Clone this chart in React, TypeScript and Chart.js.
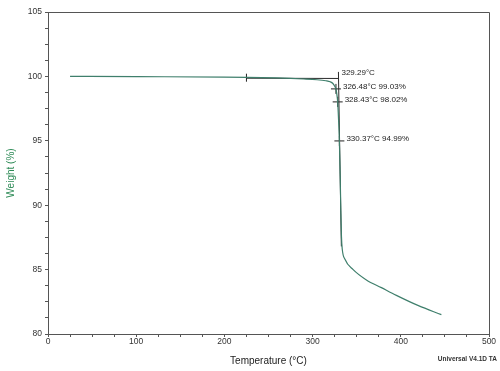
import React, { useEffect, useRef } from 'react';
import { Chart, registerables } from 'chart.js';

Chart.register(...registerables);

// TGA curve (Temperature °C, Weight %)
const temperatures = [25, 100, 200, 225, 260, 290, 305, 315, 320, 323, 325.4, 326.48, 327.5, 328.43, 329.4, 330.37, 331.3, 332, 332.7, 333.6, 336.7, 346, 361, 378, 395, 420, 446];
const weights = [100.0, 99.98, 99.95, 99.93, 99.88, 99.8, 99.74, 99.66, 99.58, 99.45, 99.2, 99.03, 98.6, 98.02, 96.7, 94.99, 92.2, 89.6, 87.6, 86.6, 85.8, 85.0, 84.2, 83.6, 83.0, 82.2, 81.5];

// onset construction lines
const baselineX = [225, 329.29];
const baselineY = [99.86, 99.84];
const tangentX = [329.29, 332.6];
const tangentY = [100.35, 86.8];
const onsetLabel = '329.29°C';

// marked points
const markX = [326.48, 328.43, 330.37];
const markY = [99.03, 98.02, 94.99];
const markLabels = ['326.48°C 99.03%', '328.43°C 98.02%', '330.37°C 94.99%'];

const startTickX = [225];
const startTickY = [99.9];

const xTitle = 'Temperature (°C)';
const yTitle = 'Weight (%)';
const footer = 'Universal V4.1D TA';

const FONT = '"Liberation Sans", Arial, Helvetica, sans-serif';

const annotationPlugin = {
  id: 'tgaAnnotations',
  afterDatasetsDraw(chart: any) {
    const { ctx, chartArea, scales } = chart;
    const x = scales.x;
    const y = scales.y;
    ctx.save();
    // frame top & right
    ctx.strokeStyle = '#555';
    ctx.lineWidth = 1;
    ctx.beginPath();
    ctx.moveTo(chartArea.left, Math.round(chartArea.top) + 0.5);
    ctx.lineTo(Math.round(chartArea.right) + 0.5, Math.round(chartArea.top) + 0.5);
    ctx.lineTo(Math.round(chartArea.right) + 0.5, chartArea.bottom);
    ctx.stroke();

    ctx.fillStyle = '#222';
    ctx.textBaseline = 'middle';
    ctx.textAlign = 'left';
    ctx.font = `8px ${FONT}`;
    ctx.fillText(onsetLabel, x.getPixelForValue(tangentX[0]) + 3, y.getPixelForValue(tangentY[0]) + 1);
    markLabels.forEach((t, i) => {
      ctx.fillText(t, x.getPixelForValue(markX[i]) + 7, y.getPixelForValue(markY[i]) - 2);
    });

    ctx.textAlign = 'right';
    ctx.font = `bold 6.5px ${FONT}`;
    ctx.fillStyle = '#333';
    ctx.fillText(footer, chart.width - 3, 359);
    ctx.restore();
  },
};

export default function App() {
  const ref = useRef<HTMLCanvasElement | null>(null);

  useEffect(() => {
    if (!ref.current) return;
    const chart = new Chart(ref.current, {
      type: 'line',
      data: {
        datasets: [
          {
            data: temperatures.map((t, i) => ({ x: t, y: weights[i] })),
            borderColor: '#3f7f6c',
            borderWidth: 1.2,
            pointRadius: 0,
            cubicInterpolationMode: 'monotone',
            fill: false,
          },
          {
            data: baselineX.map((t, i) => ({ x: t, y: baselineY[i] })),
            borderColor: '#2a2a2a',
            borderWidth: 1,
            pointRadius: 0,
            fill: false,
          },
          {
            data: tangentX.map((t, i) => ({ x: t, y: tangentY[i] })),
            borderColor: '#2a2a2a',
            borderWidth: 1,
            pointRadius: 0,
            fill: false,
          },
          {
            data: markX.map((t, i) => ({ x: t, y: markY[i] })),
            showLine: false,
            pointStyle: 'cross',
            pointRadius: 5,
            borderColor: '#222',
            borderWidth: 1,
          },
          {
            data: startTickX.map((t, i) => ({ x: t, y: startTickY[i] })),
            showLine: false,
            pointStyle: 'line',
            rotation: 90,
            pointRadius: 4,
            borderColor: '#222',
            borderWidth: 1,
          },
        ],
      } as any,
      options: {
        animation: false,
        responsive: true,
        maintainAspectRatio: false,
        layout: { padding: { top: 12, right: 11, left: 0, bottom: 0 } },
        plugins: { legend: { display: false }, tooltip: { enabled: false } },
        events: [],
        scales: {
          x: {
            type: 'linear',
            min: 0,
            max: 500,
            afterFit: (s: any) => { s.height = 37; },
            border: { color: '#555', width: 1 },
            grid: { drawOnChartArea: false, tickLength: 3, tickColor: '#555' },
            ticks: {
              stepSize: 25,
              padding: 0,
              maxRotation: 0,
              autoSkip: false,
              color: '#333',
              font: { family: FONT, size: 8.5 },
              callback: (v: any) => (Math.abs(v % 100) < 1e-6 ? String(v) : ''),
            },
            title: {
              display: true,
              text: xTitle,
              color: '#222',
              font: { family: FONT, size: 10 },
              padding: { top: 0, bottom: 4 },
            },
          },
          y: {
            type: 'linear',
            min: 80,
            max: 105,
            afterFit: (s: any) => { s.width = 48; },
            border: { color: '#555', width: 1 },
            grid: { drawOnChartArea: false, tickLength: 3, tickColor: '#555' },
            ticks: {
              stepSize: 1.25,
              padding: 3,
              autoSkip: false,
              color: '#333',
              font: { family: FONT, size: 8.5 },
              callback: (v: any) => {
                const r = v / 5;
                return Math.abs(r - Math.round(r)) < 1e-6 ? String(Math.round(v)) : '';
              },
            },
            title: {
              display: true,
              text: yTitle,
              color: '#2e8b57',
              font: { family: FONT, size: 10 },
              padding: { top: 5, bottom: 0 },
            },
          },
        },
      } as any,
      plugins: [annotationPlugin],
    });
    return () => chart.destroy();
  }, []);

  return (
    <div style={{ position: 'fixed', left: 0, top: 0, width: 500, height: 371, background: '#fff' }}>
      <canvas ref={ref} />
    </div>
  );
}
